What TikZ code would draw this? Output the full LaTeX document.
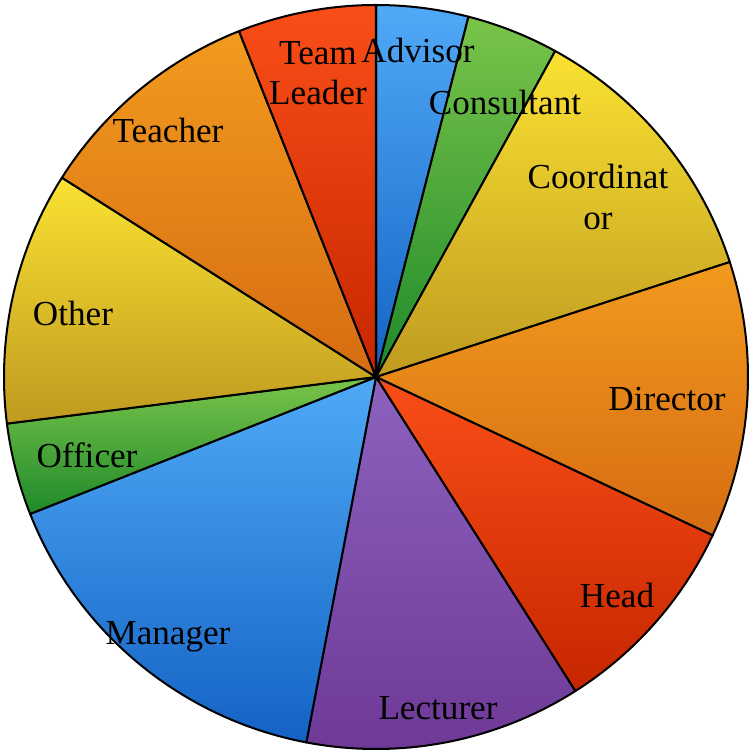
\documentclass[tikz,border=0pt]{standalone}
\usepackage{fontspec}
\setmainfont{Liberation Serif}
\usetikzlibrary{calc}
\definecolor{blueTop}{HTML}{50AAF7}
\definecolor{blueBot}{HTML}{1462C4}
\definecolor{greenTop}{HTML}{7AC44A}
\definecolor{greenBot}{HTML}{1E8A2A}
\definecolor{yellowTop}{HTML}{FAE232}
\definecolor{yellowBot}{HTML}{BF9A20}
\definecolor{orangeTop}{HTML}{F29A1E}
\definecolor{orangeBot}{HTML}{D66C12}
\definecolor{redTop}{HTML}{FA4E18}
\definecolor{redBot}{HTML}{C62600}
\definecolor{purpleTop}{HTML}{8C62BE}
\definecolor{purpleBot}{HTML}{6E3896}
\def\pieslice[#1](#2:#3:#4){\draw[#1] (0,0) -- (#2:#4) arc (#2:#3:#4) -- cycle;}
\tikzset{lbl/.style={font=\fontsize{20}{22.8}\selectfont, inner sep=0pt, align=center}}

\begin{document}
\begin{tikzpicture}[x=0.02cm, y=0.02cm, line width=1.15pt, line join=round]
		%%%%% START %%%%%
		\useasboundingbox (-376,-374) rectangle (375,377);
		
		\pieslice[top color=blueTop, bottom color=blueBot](75.6:90:372);
		\pieslice[top color=greenTop, bottom color=greenBot](61.2:75.6:372);
		\pieslice[top color=yellowTop, bottom color=yellowBot](18:61.2:372);
		\pieslice[top color=orangeTop, bottom color=orangeBot](-25.2:18:372);
		\pieslice[top color=redTop, bottom color=redBot](-57.6:-25.2:372);
		\pieslice[top color=purpleTop, bottom color=purpleBot](-100.8:-57.6:372);
		\pieslice[top color=blueTop, bottom color=blueBot](-158.4:-100.8:372);
		\pieslice[top color=greenTop, bottom color=greenBot](-172.8:-158.4:372);
		\pieslice[top color=yellowTop, bottom color=yellowBot](147.6:187.2:372);
		\pieslice[top color=orangeTop, bottom color=orangeBot](111.6:147.6:372);
		\pieslice[top color=redTop, bottom color=redBot](90:111.6:372);
		
		\node[lbl] (advisor) at (42, 327) {Advisor};
		\node[lbl] (consultant) at (129, 275) {Consultant};
		\node[lbl] (coordinator) at (222, 180) {Coordinat\\or};
		\node[lbl] (director) at (291, -22) {Director};
		\node[lbl] (head) at (241, -218) {Head};
		\node[lbl] (lecturer) at (62, -331) {Lecturer};
		\node[lbl] (manager) at (-208, -260) {Manager};
		\node[lbl] (officer) at (-289, -78) {Officer};
		\node[lbl] (other) at (-303, 64) {Other};
		\node[lbl] (teacher) at (-208, 247) {Teacher};
		\node[lbl] (teamleader) at (-58, 304) {Team\\Leader};
		
		%%%%% END %%%%%
	\end{tikzpicture}
\end{document}
